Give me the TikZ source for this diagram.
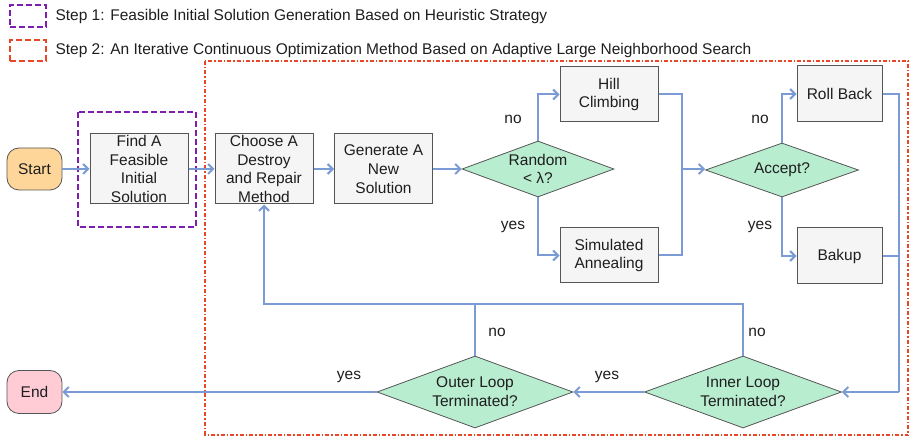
\documentclass[tikz,border=0pt]{standalone}
\usepackage{fontspec}
\setmainfont{Liberation Sans}
\usetikzlibrary{shapes.geometric,arrows.meta}
\definecolor{flow}{RGB}{122,155,214}
\definecolor{boxfill}{RGB}{245,245,245}
\definecolor{boxline}{RGB}{85,85,85}
\definecolor{dfill}{RGB}{185,237,208}
\definecolor{sfill}{RGB}{255,214,153}
\definecolor{efill}{RGB}{255,204,214}
\definecolor{stepA}{RGB}{125,30,175}
\definecolor{stepB}{RGB}{232,72,40}
\definecolor{txt}{RGB}{30,30,30}
\tikzset{
  base/.style={font=\fontsize{15.5}{18.7}\selectfont, text=txt, align=center},
  proc/.style={base, draw=boxline, fill=boxfill, line width=1pt, inner xsep=0pt, inner ysep=-3pt, minimum width=98pt, minimum height=70pt},
  sproc/.style={base, draw=boxline, fill=boxfill, line width=1pt, inner sep=0pt, minimum width=98pt, minimum height=55pt},
  dec/.style={base, diamond, aspect=2.7, draw=boxline, fill=dfill, line width=0.8pt, inner sep=0pt},
  term/.style={base, draw=boxline, rounded corners=12pt, line width=0.8pt, minimum width=55pt, minimum height=42pt},
  flowline/.style={draw=flow, line width=2pt},
  arr/.style={flowline, -{Straight Barb[length=5pt,width=10pt]}},
  lbl/.style={font=\fontsize{15.5}{17}\selectfont, text=txt},
}
\begin{document}
\begin{tikzpicture}[x=1pt,y=-1pt]
\useasboundingbox (0,0) rectangle (911,438);
% legend
\node[draw=stepA, dashed, dash pattern=on 6pt off 3pt, line width=2pt, minimum width=36pt, minimum height=22pt, inner sep=0pt] (legA) at (28,16) {};
\node[lbl, anchor=west] (legAt) at (52,16) {Step 1: Feasible Initial Solution Generation Based on Heuristic Strategy};
\node[draw=stepB, dashed, dash pattern=on 6pt off 3pt, line width=2pt, minimum width=36pt, minimum height=21pt, inner sep=0pt] (legB) at (28,50.5) {};
\node[lbl, anchor=west] (legBt) at (52,50.5) {Step 2: An Iterative Continuous Optimization Method Based on Adaptive Large Neighborhood Search};
% group boxes
\draw[stepB, line width=2pt, dash pattern=on 4pt off 2pt on 1.5pt off 2pt] (205,61) rectangle (908,435);
\draw[stepA, line width=2pt, dash pattern=on 6pt off 3pt] (78,112) rectangle (196,227);
% nodes
\node[term, fill=sfill] (start) at (34.5,169) {Start};
\node[term, fill=efill, minimum height=43pt] (end) at (34.5,392) {End};
\node[proc] (find) at (139,169) {Find A\\Feasible\\Initial\\Solution};
\node[proc] (choose) at (264,169) {Choose A\\Destroy\\and Repair\\Method};
\node[proc] (gen) at (383.5,169) {Generate A\\New\\Solution};
\node[dec, minimum width=152pt, minimum height=56pt] (rand) at (538,169) {Random\\< λ?};
\node[sproc] (hill) at (609,94.5) {Hill\\Climbing};
\node[sproc] (sim) at (609,255.5) {Simulated\\Annealing};
\node[dec, minimum width=153pt, minimum height=54pt] (acc) at (782,170) {Accept?};
\node[sproc, minimum width=85pt, minimum height=56pt] (roll) at (839.5,94) {Roll Back};
\node[sproc, minimum width=85pt, minimum height=56pt] (bak) at (839.5,256) {Bakup};
\node[dec, minimum width=197pt, minimum height=72pt] (inner) at (743,392) {Inner Loop\\Terminated?};
\node[dec, minimum width=196pt, minimum height=72pt] (outer) at (475,392) {Outer Loop\\Terminated?};
% junctions
\coordinate (j1) at (682,169);
\coordinate (j2) at (899,392);
\coordinate (j3) at (264,304);
% connectors
\draw[arr] (start) -- (find);
\draw[arr] (find) -- (choose);
\draw[arr] (choose) -- (gen);
\draw[arr] (gen) -- (rand);
\draw[arr] (rand.north) |- (hill.west);
\draw[arr] (rand.south) |- (sim.west);
\draw[flowline] (hill.east) -| (j1);
\draw[flowline] (sim.east) -| (j1);
\draw[arr] (j1) -- (acc.west |- j1);
\draw[arr] (acc.north) |- (roll.west);
\draw[arr] (acc.south) |- (bak.west);
\draw[flowline] (roll.east) -| (j2);
\draw[flowline] (bak.east) -| (j2);
\draw[arr] (j2) -- (inner.east);
\draw[arr] (inner.west) -- (outer.east);
\draw[arr] (outer.west) -- (end.east);
\draw[arr] (inner.north) |- (j3) -- (choose.south);
\draw[flowline] (outer.north) -- (outer.north |- j3);
% labels
\node[lbl] (l1) at (513,119) {no};
\node[lbl] (l2) at (513,227) {yes};
\node[lbl] (l3) at (760,119) {no};
\node[lbl] (l4) at (760,227) {yes};
\node[lbl] (l5) at (497,332) {no};
\node[lbl] (l6) at (757,332) {no};
\node[lbl] (l7) at (349,377) {yes};
\node[lbl] (l8) at (607,377) {yes};
\end{tikzpicture}
\end{document}
